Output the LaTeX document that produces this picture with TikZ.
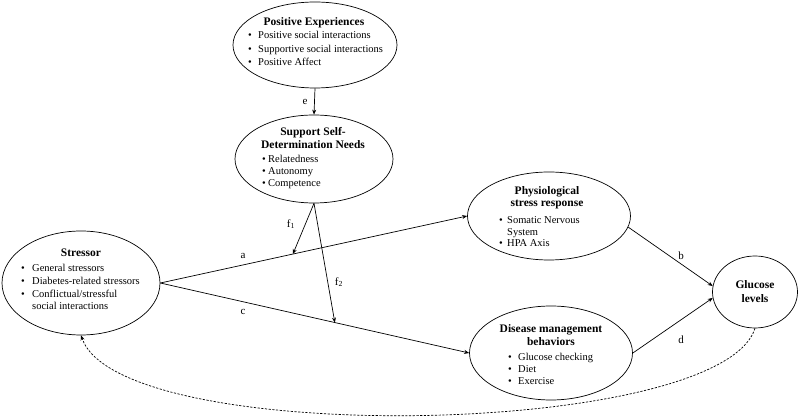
\documentclass[tikz,border=0pt]{standalone}
\usepackage{fontspec}
\setmainfont{Liberation Serif}
\usetikzlibrary{shapes.geometric,arrows.meta,calc}
\newcommand\bt[1]{\makebox[#1][l]{\textbullet}}
\begin{document}
\begin{tikzpicture}[x=1pt,y=-1pt,
  oval/.style={draw, ellipse, line width=0.7pt, inner sep=0pt},
  ttl/.style={font=\fontsize{11.5}{13}\selectfont\bfseries, align=center, inner sep=0pt},
  lst/.style={align=left, anchor=north west, inner sep=0pt},
  lbl/.style={font=\fontsize{11}{13}\selectfont, inner sep=0pt},
  arr/.style={line width=0.7pt, -{Stealth[length=5pt,width=4pt]}},
  dsh/.style={line width=0.7pt, dash pattern=on 2.2pt off 1.5pt, -{Stealth[length=5pt,width=4pt]}}]
\useasboundingbox (0,0) rectangle (798,419);
% ellipses
\node[oval, minimum width=164pt, minimum height=86pt] (pe) at (315,45) {};
\node[oval, minimum width=158pt, minimum height=88pt] (sd) at (314,159) {};
\node[oval, minimum width=158pt, minimum height=104pt] (st) at (81,283) {};
\node[oval, minimum width=163pt, minimum height=88pt] (ph) at (549,216) {};
\node[oval, minimum width=163pt, minimum height=94pt] (dm) at (551,353) {};
\node[oval, minimum width=85pt, minimum height=72pt] (gl) at (755,292) {};
% texts
\node[ttl] (pe-t) at (314,23) {Positive Experiences};
\node[lst, font=\fontsize{10.5}{13.3}\selectfont] (pe-l) at (248,31.3) {\bt{10pt}Positive social interactions\\\bt{10pt}Supportive social interactions\\\bt{10pt}Positive Affect};
\node[ttl] (sd-t) at (313,138.5) {Support Self-\\Determination Needs};
\node[lst, font=\fontsize{10.5}{12}\selectfont] (sd-l) at (262,155.3) {\bt{6pt}Relatedness\\\bt{6pt}Autonomy\\\bt{6pt}Competence};
\node[ttl] (st-t) at (81,253) {Stressor};
\node[lst, font=\fontsize{10.5}{12.7}\selectfont] (st-l) at (21,264.3) {\bt{11pt}General stressors\\\bt{11pt}Diabetes-related stressors\\\bt{11pt}Conflictual/stressful\\\hspace*{11pt}social interactions};
\node[ttl, font=\fontsize{11.5}{11.8}\selectfont\bfseries] (ph-t) at (547,198) {Physiological\\stress response};
\node[lst, font=\fontsize{10.5}{11.6}\selectfont] (ph-l) at (499,216.3) {\bt{8pt}Somatic Nervous\\\hspace*{8pt}System\\\bt{8pt}HPA Axis};
\node[ttl, font=\fontsize{11.5}{13.5}\selectfont\bfseries] (dm-t) at (551,335) {Disease management\\behaviors};
\node[lst, font=\fontsize{10.5}{12}\selectfont] (dm-l) at (508,353.3) {\bt{10pt}Glucose checking\\\bt{10pt}Diet\\\bt{10pt}Exercise};
\node[ttl, font=\fontsize{11.5}{14}\selectfont\bfseries] (gl-t) at (755,292) {Glucose\\levels};
% connectors
\coordinate (f1e) at ($(st.east)!0.432!(ph.west)$);
\coordinate (f2e) at ($(st.east)!0.565!(dm.west)$);
\draw[arr] (pe.south) -- (sd.north);
\draw[arr] (st.east) -- (ph.west);
\draw[arr] (st.east) -- (dm.west);
\draw[arr] (sd.south) -- (f1e);
\draw[arr] (sd.south) -- (f2e);
\draw[arr] (ph.-8) -- (gl.172);
\draw[arr] (dm.east) -- (gl.188);
\draw[dsh] (gl.south) .. controls (720,438) and (120,448) .. (st.south);
% labels
\node[lbl] (le) at (305,102) {e};
\node[lbl] (la) at (243,256) {a};
\node[lbl] (lc) at (243,312) {c};
\node[lbl] (lf1) at (291,224) {f\textsubscript{1}};
\node[lbl] (lf2) at (339,282) {f\textsubscript{2}};
\node[lbl] (lb) at (681,256) {b};
\node[lbl] (ld) at (681,340) {d};
\end{tikzpicture}
\end{document}
